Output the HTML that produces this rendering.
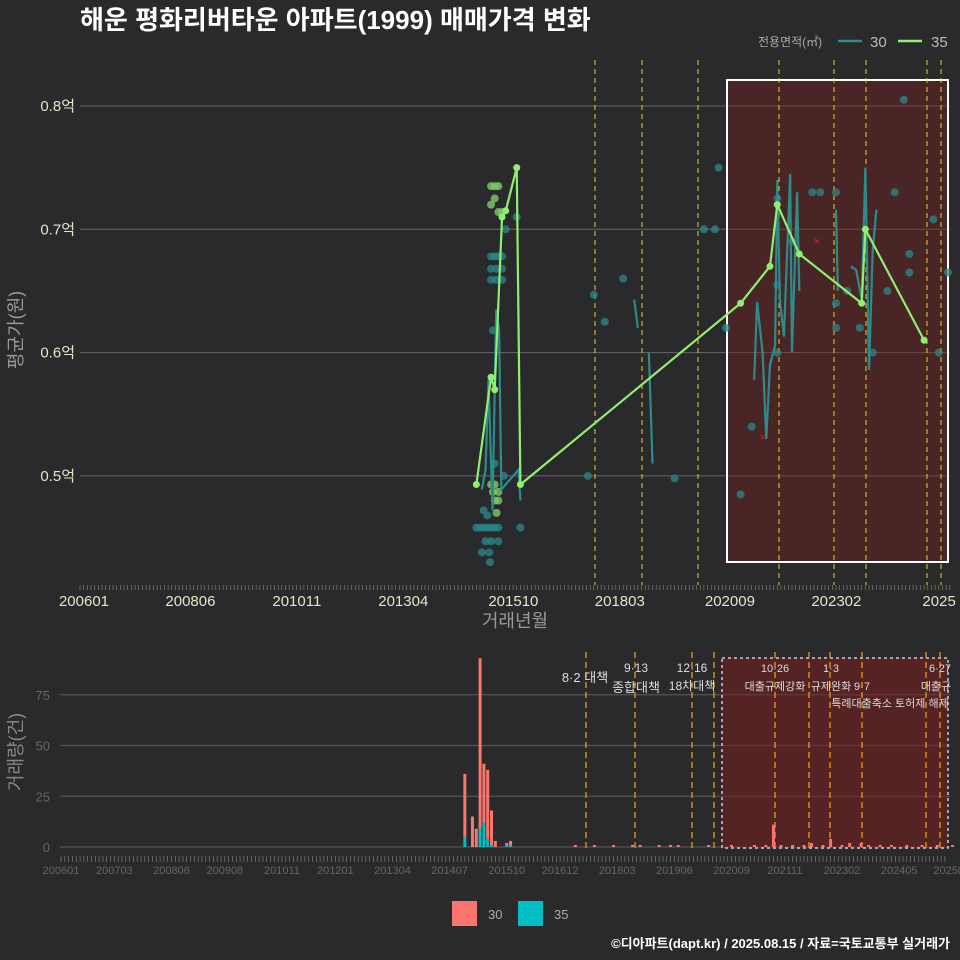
<!DOCTYPE html>
<html><head><meta charset="utf-8"><style>
body{margin:0;background:#2a2a2c;}
svg{display:block;font-family:"Liberation Sans","Noto Sans CJK KR",sans-serif;}
</style></head><body>
<svg id="c" width="960" height="960">
<rect width="960" height="960" fill="#2a2a2c"/>
</svg>
<script>
const months30=[109.5,110.5,111.3,112.4,113.4,114.2,114.8,119.5,120];
const vals30=[0.489,0.505,0.578,0.472,0.635,0.618,0.489,0.505,0.48];
const seg30b=[[151,0.643],[152,0.62]];
const seg30c=[[155,0.6],[156,0.51]];
const seg30d=[[183.7,0.578],[184.5,0.641],[186,0.6],[187,0.53],[188,0.59],[189.4,0.606],[190,0.74],[190.7,0.643],[191.8,0.613],[193.5,0.745],[194,0.6],[195.4,0.73],[196,0.65]];
const seg30e=[[206,0.716],[206.5,0.65]];
const seg30f=[[210,0.67],[211.5,0.667],[213,0.643],[214,0.75],[215,0.586],[216,0.683],[217,0.716]];
const months35=[108,112,113,115,116,119,120,180,188,190,196,213,214,230];
const vals35=[0.493,0.58,0.57,0.71,0.715,0.75,0.493,0.64,0.67,0.72,0.68,0.64,0.70,0.61];
const dots30=[[108,0.458],[109,0.458],[110,0.458],[111,0.458],[112,0.458],[113,0.458],[114,0.458],[110,0.472],[111,0.468],[110.5,0.447],[112,0.447],[114,0.447],[111.5,0.438],[109.5,0.438],[111.7,0.43],[112,0.678],[113,0.678],[114,0.678],[115,0.678],[112,0.668],[113.5,0.668],[115,0.668],[112,0.659],[113.5,0.659],[115,0.659],[112.5,0.618],[116,0.7],[119,0.71],[115.5,0.5],[120,0.458],[113,0.51],
[138.4,0.5],[140,0.647],[143,0.625],[148,0.66],[162,0.498],[170,0.7],[173,0.7],[174,0.75],[176,0.62],[180,0.485],[183,0.54],[190,0.725],[190,0.6],[190,0.655],[194,0.69],[199.5,0.73],[201.7,0.73],[206,0.73],[206,0.64],[206,0.62],[209,0.65],[220,0.65],[222,0.73],[224.5,0.805],[226,0.665],[226,0.68],[232.5,0.708],[234,0.6],[236.5,0.665],[212.5,0.62],[216,0.6]];
const dots35=[[112,0.735],[113,0.735],[114,0.735],[113,0.725],[112,0.72],[114,0.714],[115,0.714],[112,0.493],[113,0.493],[113,0.48],[114,0.48],[113.5,0.47],[112.5,0.487],[114,0.487]];
const barMonths=[106,108,109,110,111,112,113,114,117,118,135,140,145,150,152,157,160,162,170,176,182,185,187,189,192,195,197,200,202,205,207,210,212,215,218,222,226,230,234];
const bar30=[31,15,9,84,29,34,17,3,1,2,1,1,1,1,1,1,1,1,1,1,1,1,11,1,1,1,2,1,4,1,2,2,1,1,1,1,1,1,1];
const bar35=[5,0,0,9,12,4,1,0,1,1,0,0,0,0,0,0,0,0,0,0,0,0,0,0,0,0,0,0,0,0,0,0,0,0,0,0,0,0,0];
const topTicks=["200601","200806","201011","201304","201510","201803","202009","202302","2025"];
const botTicks=["200601","200703","200806","200908","201011","201201","201304","201407","201510","201612","201803","201906","202009","202111","202302","202405","20250"];
const yTop=[0.5,0.6,0.7,0.8], yBot=[0,25,50,75];
const svg=document.getElementById('c');const NS='http://www.w3.org/2000/svg';
function mk(t,a,p){const e=document.createElementNS(NS,t);for(const k in a)e.setAttribute(k,a[k]);(p||svg).appendChild(e);return e;}
const lblM=s=>s.length<6?(2025-2006)*12+5:(+s.slice(0,4)-2006)*12+(+s.slice(4,6)-1);
const xT=m=>80+m*3.67, yT=v=>106+(0.8-v)*1233;
const xB=m=>61+m*3.81, yB=v=>847-v*2.03;
let t=mk('text',{x:80,y:29,fill:'#fff','font-size':26,'font-weight':'bold'});t.textContent='해운 평화리버타운 아파트(1999) 매매가격 변화';

t=mk('text',{x:758,y:46,fill:'#aaa','font-size':12});t.textContent='전용면적(㎡)';
mk('line',{x1:838,y1:41,x2:862,y2:41,stroke:'#2e8b8b','stroke-width':2.5});
t=mk('text',{x:870,y:47,fill:'#bbb','font-size':15});t.textContent='30';
mk('line',{x1:898,y1:41,x2:922,y2:41,stroke:'#90ee70','stroke-width':2.5});
t=mk('text',{x:931,y:47,fill:'#bbb','font-size':15});t.textContent='35';
yTop.forEach(v=>{mk('line',{x1:80,x2:950,y1:yT(v),y2:yT(v),stroke:'#666','stroke-width':1});
 const l=mk('text',{x:75,y:yT(v)+5,fill:'#e8e4c4','font-size':15,'text-anchor':'end'});l.textContent=v+'억';
 });
mk('rect',{x:727,y:80,width:221,height:482,fill:'rgba(120,30,30,0.4)',stroke:'#fff','stroke-width':2});
[595,642,698,779,834,866,927,941].forEach(x=>mk('line',{x1:x,x2:x,y1:60,y2:585,stroke:'#e8d020','stroke-dasharray':'5,4','stroke-width':1}));
for(let m=0;m<=237;m++)mk('line',{x1:xT(m),x2:xT(m),y1:585,y2:590,stroke:'#888','stroke-width':0.6});
topTicks.forEach((s,i)=>{const l=mk('text',{x:xT(lblM(s))+4,y:606,fill:'#e8e4c4','font-size':15,'text-anchor':'middle'});l.textContent=s;
 });
t=mk('text',{x:515,y:627,fill:'#999','font-size':18,'text-anchor':'middle'});t.textContent='거래년월';
t=mk('text',{x:22,y:330,fill:'#999','font-size':18,'text-anchor':'middle',transform:'rotate(-90 22 330)'});t.textContent='평균가(원)';
dots30.forEach(d=>{const c=mk('circle',{cx:xT(d[0]),cy:yT(d[1]),r:4,fill:'#2a8a8a','fill-opacity':0.75});});
dots35.forEach(d=>{const c=mk('circle',{cx:xT(d[0]),cy:yT(d[1]),r:4,fill:'#7ccc66','fill-opacity':0.8});});
function path(pts,col,name){const p=mk('polyline',{points:pts.map(q=>xT(q[0])+','+yT(q[1])).join(' '),fill:'none',stroke:col,'stroke-width':2.2});}
path(months30.map((m,i)=>[m,vals30[i]]),'#2e8b8b','line-30');
[seg30b,seg30c,seg30d,seg30e,seg30f].forEach(s=>path(s,'#2e8b8b','line-30-segment'));
path(months35.map((m,i)=>[m,vals35[i]]),'#90ee70','line-35');
months35.forEach((m,i)=>{const c=mk('circle',{cx:xT(m),cy:yT(vals35[i]),r:3.5,fill:'#90ee70'});});
[[817,241],[763,437]].forEach(p=>{t=mk('text',{x:p[0],y:p[1]+4,fill:'#e02020','font-size':11,'text-anchor':'middle'});t.textContent='×';});
yBot.forEach(v=>{mk('line',{x1:60,x2:950,y1:yB(v),y2:yB(v),stroke:'#555','stroke-width':1.2});
 const l=mk('text',{x:50,y:yB(v)+5,fill:'#666','font-size':13,'text-anchor':'end'});l.textContent=v;});
mk('rect',{x:722,y:658,width:226,height:190,fill:'rgba(120,30,30,0.55)',stroke:'#ccc','stroke-dasharray':'3,3','stroke-width':1.5});
[586,635,692,714,775,809,830,862,926,940].forEach(x=>mk('line',{x1:x,x2:x,y1:652,y2:850,stroke:'#e8a010','stroke-dasharray':'6,4','stroke-width':1.3}));
barMonths.forEach((m,i)=>{const x=xB(m)-1.5;
 let r=mk('rect',{x:x,y:yB(bar35[i]),width:3,height:bar35[i]*2.03,fill:'#00bfc4'});
 r=mk('rect',{x:x,y:yB(bar35[i]+bar30[i]),width:3,height:bar30[i]*2.03,fill:'#f8766d'});});
for(let m=0;m<=232;m++)mk('line',{x1:xB(m),x2:xB(m),y1:856,y2:862,stroke:'#888','stroke-width':0.6});
botTicks.forEach((s,i)=>{const l=mk('text',{x:xB(lblM(s)),y:874,fill:'#666','font-size':11,'text-anchor':'middle'});l.textContent=s;});
t=mk('text',{x:22,y:752,fill:'#888','font-size':18,'text-anchor':'middle',transform:'rotate(-90 22 752)'});t.textContent='거래량(건)';
[[585,682,'8·2 대책',13],[636,672,'9·13',12],[636,692,'종합대책',13],[692,672,'12·16',12],[692,690,'18차대책',12],[775,672,'10·26',11],[775,690,'대출규제강화',11],[831,672,'1·3',11],[831,690,'규제완화',11],[862,690,'9·7',11],[890,707,'특례대출축소 토허제 해제',11],[940,672,'6·27',11],[936,690,'대출규',11]].forEach(a=>{
 const l=mk('text',{x:a[0],y:a[1],fill:'#ddd','font-size':a[3],'text-anchor':'middle'});l.textContent=a[2];});
mk('rect',{x:452,y:901,width:25,height:25,fill:'#f8766d'});
t=mk('text',{x:488,y:919,fill:'#aaa','font-size':13});t.textContent='30';
mk('rect',{x:518,y:901,width:25,height:25,fill:'#00bfc4'});
t=mk('text',{x:554,y:919,fill:'#aaa','font-size':13});t.textContent='35';
t=mk('text',{x:950,y:948,fill:'#fff','font-size':13,'font-weight':'bold','text-anchor':'end'});t.textContent='©디아파트(dapt.kr) / 2025.08.15 / 자료=국토교통부 실거래가';
</script>
</body></html>
